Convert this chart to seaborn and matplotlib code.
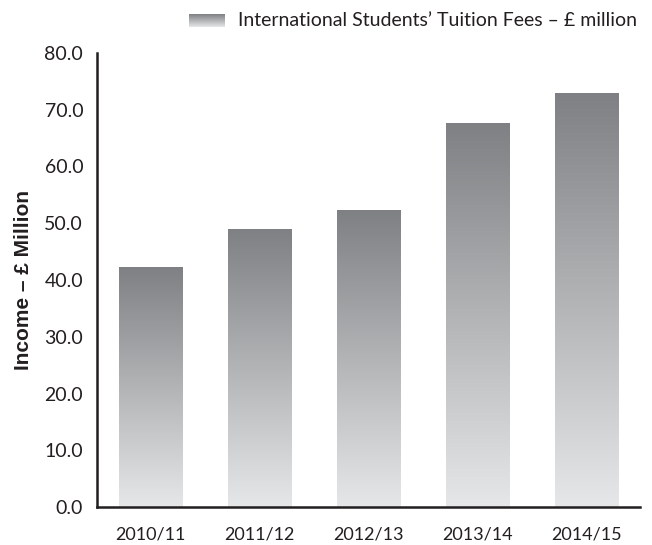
import numpy as np
import seaborn as sns
import matplotlib.pyplot as plt
from matplotlib.colors import LinearSegmentedColormap

# Chart data
years = ['2010/11', '2011/12', '2012/13', '2013/14', '2014/15']
fees = [42.3, 49.0, 52.4, 67.7, 73.0]
legend_label = 'International Students\u2019 Tuition Fees \u2013 \u00a3 million'

sns.set_style('white')
plt.rcParams['font.family'] = ['Lato', 'DejaVu Sans']

fig = plt.figure(figsize=(6.52, 5.45), dpi=100)
ax = fig.add_axes([0.1488, 0.0697, 0.8328, 0.8331])

sns.barplot(x=years, y=fees, color='#a0a0a0', width=0.58, ax=ax, zorder=1)

# Grey gradient on each bar, dark at the top
grad_cmap = LinearSegmentedColormap.from_list('bar_grad', ['#7f8083', '#e6e7e8'])
grad = np.linspace(0, 1, 256).reshape(-1, 1)
for bar in ax.patches:
    x0, y0 = bar.get_x(), bar.get_y()
    w, h = bar.get_width(), bar.get_height()
    im = ax.imshow(grad, extent=[x0, x0 + w, y0, y0 + h], origin='upper',
                   aspect='auto', cmap=grad_cmap, zorder=2)
    im.set_clip_path(bar)
    bar.set_facecolor('none')
    bar.set_edgecolor('none')

ax.set_xlim(-0.49, 4.49)
ax.set_ylim(0, 80)
ax.set_yticks(np.arange(0, 81, 10))
ax.set_yticklabels([f'{v:.1f}' for v in np.arange(0, 81, 10)])

for side in ['top', 'right']:
    ax.spines[side].set_visible(False)
for side in ['left', 'bottom']:
    ax.spines[side].set_color('#231f20')
    ax.spines[side].set_linewidth(1.8)
    ax.spines[side].set_zorder(5)

ax.tick_params(axis='y', length=0, pad=10, labelsize=14, labelcolor='#231f20')
ax.tick_params(axis='x', length=0, pad=14, labelsize=13, labelcolor='#231f20')

ax.set_ylabel('Income \u2013 \u00a3 Million', fontsize=15, fontweight='bold',
              family=['Liberation Sans', 'DejaVu Sans'], color='#231f20', labelpad=8)

# Legend: gradient swatch plus text
sw = fig.add_axes([189 / 652, 1 - 27 / 545, 36 / 652, 13 / 545])
sw.imshow(grad, aspect='auto', cmap=grad_cmap)
sw.axis('off')
fig.text(238 / 652, 1 - 21 / 545, legend_label, fontsize=14, color='#231f20',
         va='center', ha='left')

fig.savefig('out.png', dpi=100)
